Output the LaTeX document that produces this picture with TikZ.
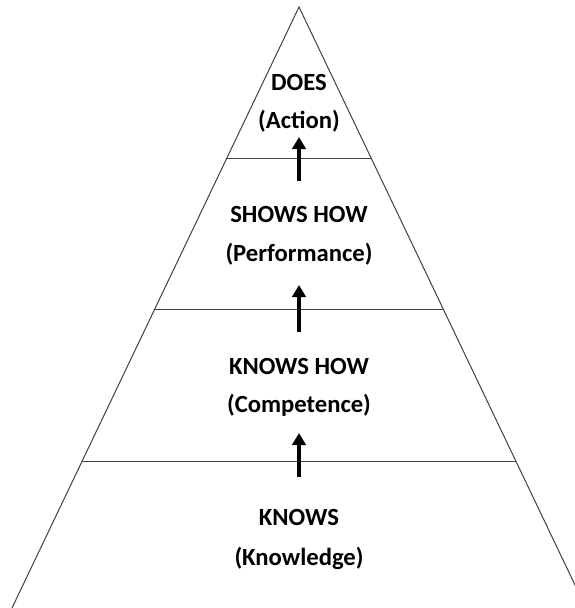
\documentclass[tikz,border=0pt]{standalone}
\usepackage{fontspec}
\setmainfont{Carlito}
\usetikzlibrary{arrows.meta}

\tikzset{every picture/.style={line width=0.75pt}}
\tikzset{
  level/.style={anchor=base,inner sep=0.75pt,font=\fontsize{18.5}{22}\selectfont\bfseries},
  edge/.style={color={rgb, 255:red, 64; green, 64; blue, 64 }},
  up/.style={line width=2.4pt,-{Triangle[width=10pt,length=9pt]}}
}

\begin{document}
\begin{tikzpicture}[x=0.75pt,y=0.75pt,yscale=-1,xscale=1]
\useasboundingbox (0,0) rectangle (575,608);
\clip (0,0) rectangle (575,608);

%Shape: Triangle
\coordinate (apex) at (299,7);
\coordinate (bl) at (12,608);
\coordinate (br) at (586,608);
\draw [edge] (bl) -- (apex) -- (br) ;
%Straight Lines
\draw [edge] (226.9,158) -- (371.1,158) ;
\draw [edge] (154.8,309) -- (443.2,309) ;
\draw [edge] (82.2,461) -- (515.8,461) ;

% Text Node
\node [level] (does) at (299,90.7) {DOES};
\node [level] (action) at (299,128.3) {(Action)};
\node [level] (shows) at (299,222.7) {SHOWS HOW};
\node [level] (perf) at (299,261) {(Performance)};
\node [level] (knowshow) at (299,374) {KNOWS HOW};
\node [level] (comp) at (299,412) {(Competence)};
\node [level] (knows) at (299,525) {KNOWS};
\node [level] (know) at (299,565) {(Knowledge)};

%Arrows
\coordinate (a1) at (299,181);
\coordinate (a1t) at (299,137);
\coordinate (a2) at (299,332);
\coordinate (a2t) at (299,285);
\coordinate (a3) at (299,477);
\coordinate (a3t) at (299,433);
\draw [up] (a1) -- (a1t) ;
\draw [up] (a2) -- (a2t) ;
\draw [up] (a3) -- (a3t) ;

\end{tikzpicture}
\end{document}
